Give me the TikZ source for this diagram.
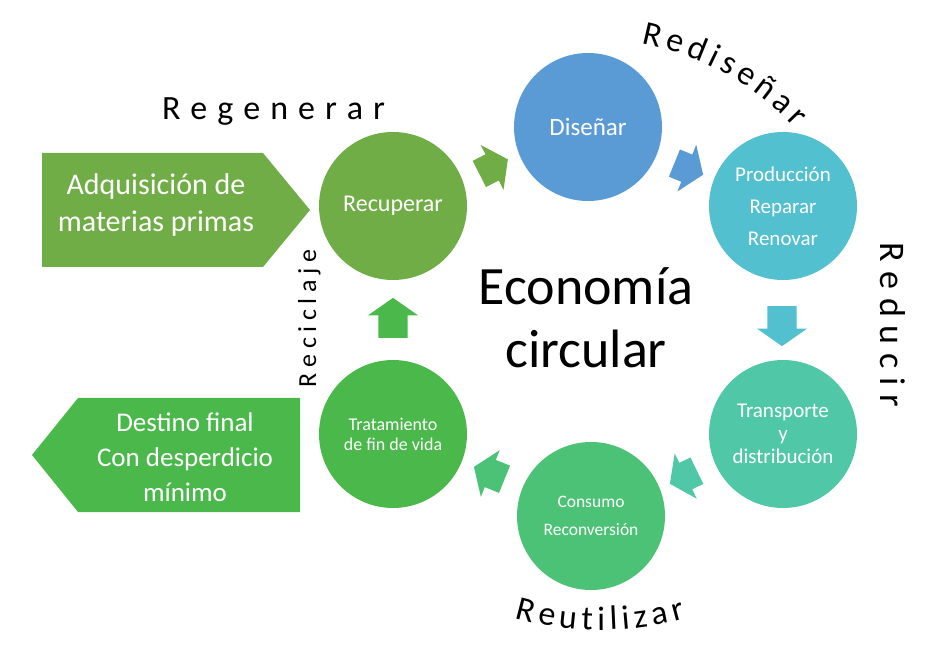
\documentclass[tikz,border=0pt]{standalone}
\usepackage{fontspec}
\setmainfont{Carlito}
\usepackage{tikz}
\usetikzlibrary{shapes.arrows, decorations.text}
\usepackage{xcolor}
\definecolor{cazul}{HTML}{5B9BD5}
\definecolor{cturq}{HTML}{52C0CE}
\definecolor{cmenta}{HTML}{50C8A8}
\definecolor{cverde}{HTML}{4BC275}
\definecolor{cpasto}{HTML}{4BB84B}
\definecolor{coliva}{HTML}{70AD47}

\begin{document}
\begin{tikzpicture}[x=1pt, y=1pt,
  etapa/.style={circle, fill=#1, minimum size=148, inner sep=0, text=white, align=center},
  flecha/.style={single arrow, fill=#1, inner xsep=0, inner ysep=14.5, minimum height=32,
    single arrow head extend=10.5, single arrow tip angle=110, single arrow head indent=0},
  rotulo/.style={decorate, decoration={text along path, text align={fit to path}, text={#1}}}]
  \useasboundingbox (0,0) rectangle (936,667);

  % Stages of the cycle
  \node[etapa=cazul, font=\fontsize{25}{30}\selectfont] (dis) at (588,540) {Diseñar};
  \node[etapa=cturq, font=\fontsize{21}{32}\selectfont] (pro) at (783,461) {Producción\\Reparar\\Renovar};
  \node[etapa=cmenta, font=\fontsize{21}{23}\selectfont] (tra) at (783,233) {Transporte\\y\\distribución};
  \node[etapa=cverde, font=\fontsize{17.5}{28}\selectfont] (con) at (591,151) {Consumo\\Reconversión};
  \node[etapa=cpasto, font=\fontsize{18}{20}\selectfont] (fin) at (393,233) {Tratamiento\\de fin de vida};
  \node[etapa=coliva, font=\fontsize{24}{29}\selectfont] (rec) at (393,461) {Recuperar};

  % Block arrows between the stages
  \node[flecha=coliva, rotate=27] (f1) at (489,498) {};
  \node[flecha=cazul, rotate=-22, minimum height=31] (f2) at (684,500) {};
  \node[flecha=cturq, rotate=-90, minimum height=40] (f3) at (782,346) {};
  \node[flecha=cmenta, rotate=206, minimum height=30] (f4) at (688,192) {};
  \node[flecha=cverde, rotate=158, minimum height=33] (f5) at (494,192) {};
  \node[flecha=cpasto, rotate=90, minimum height=40] (f6) at (393,344) {};

  % Title
  \node[align=center, font=\fontsize{54}{63}\selectfont] (eco) at (586,349) {Economía\\circular};

  % Input and output
  \fill[coliva] (42,400) -- (263,400) -- (310,457) -- (263,514) -- (42,514) -- cycle;
  \node[text=white, align=center, font=\fontsize{30}{37}\selectfont] (adq) at (156,462) {Adquisición de\\materias primas};
  \fill[cpasto] (300,155) -- (300,269) -- (78,269) -- (32,212) -- (78,155) -- cycle;
  \node[text=white, align=center, font=\fontsize{27}{35}\selectfont] (des) at (185,210) {Destino final\\Con desperdicio\\mínimo};

  % Labels round the cycle
  \path[rotulo={|\fontsize{34}{40}\selectfont|Regenerar}] (162,547) -- (385,547);
  \path[rotulo={|\fontsize{34}{40}\selectfont|Rediseñar}] (588,347) ++(79:282) arc[start angle=79, end angle=43, radius=282];
  \path[rotulo={|\fontsize{36}{42}\selectfont|Reducir}] (880,424) -- (880,260);
  \path[rotulo={|\fontsize{34}{40}\selectfont|Reutilizar}] (600,347) ++(254:310) arc[start angle=254, end angle=286, radius=310];
  \path[rotulo={|\fontsize{26}{31}\selectfont|Reciclaje}] (316,280) -- (316,417);
\end{tikzpicture}
\end{document}
